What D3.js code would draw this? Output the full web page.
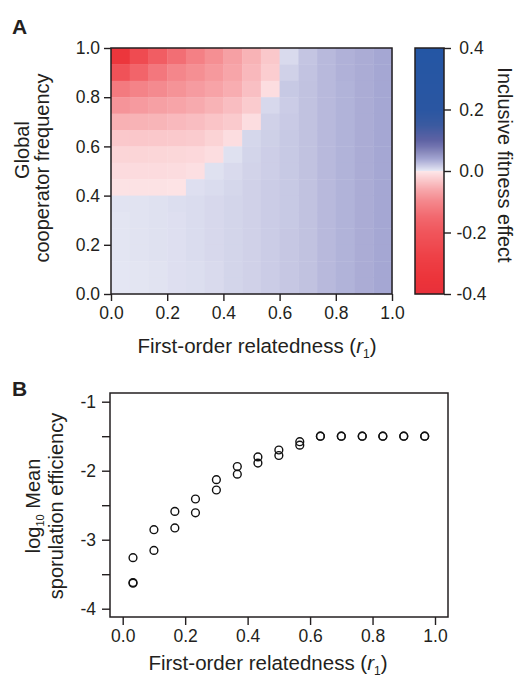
<!DOCTYPE html>
<html><head><meta charset="utf-8">
<script src="https://cdn.jsdelivr.net/npm/d3@7"></script>
<style>
html,body{margin:0;padding:0;background:#fff;}
svg{display:block;font-family:"Liberation Sans",Arial,Helvetica,sans-serif;}
</style></head>
<body>
<svg id="chart" width="517" height="682"></svg>
<script>
// ---------- DATA ----------
const relatedness = [0.033,0.1,0.167,0.233,0.3,0.367,0.433,0.5,0.567,0.633,0.7,0.767,0.833,0.9,0.967];
// global cooperator frequency bins, top to bottom
const cooperatorFreq = [0.967,0.9,0.833,0.767,0.7,0.633,0.567,0.5,0.433,0.367,0.3,0.233,0.167,0.1,0.033];
// inclusive fitness effect, one row per cooperatorFreq (top to bottom), one column per relatedness
const fitnessEffect = [
 [-0.34,-0.24,-0.18,-0.14,-0.11,-0.09,-0.07,-0.05,-0.03,0.008,0.02,0.027,0.032,0.035,0.038],
 [-0.21,-0.16,-0.125,-0.10,-0.09,-0.078,-0.064,-0.045,-0.025,0.013,0.021,0.027,0.032,0.035,0.038],
 [-0.12,-0.105,-0.095,-0.085,-0.075,-0.066,-0.055,-0.038,-0.01,0.018,0.022,0.027,0.031,0.035,0.038],
 [-0.083,-0.076,-0.07,-0.065,-0.058,-0.05,-0.04,-0.027,0.009,0.016,0.022,0.027,0.031,0.035,0.038],
 [-0.052,-0.05,-0.048,-0.044,-0.04,-0.034,-0.028,-0.01,0.013,0.017,0.022,0.027,0.031,0.035,0.038],
 [-0.03,-0.031,-0.03,-0.029,-0.027,-0.02,-0.01,0.01,0.014,0.018,0.022,0.027,0.031,0.035,0.038],
 [-0.018,-0.018,-0.017,-0.016,-0.015,-0.01,0.004,0.011,0.015,0.018,0.022,0.027,0.031,0.035,0.038],
 [-0.012,-0.012,-0.012,-0.011,-0.008,0.004,0.008,0.012,0.015,0.018,0.022,0.027,0.031,0.035,0.038],
 [-0.006,-0.006,-0.006,-0.005,0.005,0.007,0.01,0.013,0.016,0.018,0.022,0.027,0.031,0.035,0.038],
 [0.003,0.003,0.004,0.006,0.007,0.009,0.011,0.013,0.016,0.018,0.022,0.027,0.031,0.035,0.038],
 [0.002,0.003,0.004,0.005,0.007,0.009,0.011,0.013,0.016,0.018,0.022,0.027,0.031,0.035,0.038],
 [0.002,0.003,0.004,0.005,0.007,0.009,0.011,0.013,0.016,0.019,0.022,0.027,0.031,0.035,0.038],
 [0.002,0.003,0.004,0.005,0.007,0.009,0.011,0.013,0.016,0.019,0.022,0.027,0.031,0.035,0.038],
 [0.001,0.002,0.003,0.005,0.006,0.008,0.011,0.013,0.016,0.019,0.022,0.027,0.031,0.035,0.038],
 [0.001,0.002,0.003,0.005,0.006,0.008,0.011,0.013,0.016,0.019,0.022,0.027,0.031,0.035,0.038]
];
const axisTicksA = [0,0.2,0.4,0.6,0.8,1.0];
const colorbarTicks = [-0.4,-0.2,0,0.2,0.4];

// Panel B: log10 mean sporulation efficiency, two replicate series
const relatednessB = [0.033,0.1,0.167,0.233,0.3,0.367,0.433,0.5,0.567,0.633,0.7,0.767,0.833,0.9,0.967];
const sporulationHigh = [-3.26,-2.855,-2.59,-2.41,-2.13,-1.94,-1.80,-1.70,-1.58,-1.50,-1.50,-1.50,-1.50,-1.50,-1.50];
const sporulationLow  = [-3.62,-3.155,-2.83,-2.61,-2.28,-2.05,-1.89,-1.78,-1.63,-1.50,-1.50,-1.50,-1.50,-1.50,-1.50];
const sporulationLow2 = [-3.63];
const yTicksB = [-1,-2,-3,-4];
const yMinorB = [-1.5,-2.5,-3.5];
const xTicksB = [0,0.2,0.4,0.6,0.8,1.0];

// ---------- DRAW ----------
const svg = d3.select("#chart");
const ink = "#231f20";
const loc = d3.formatLocale({decimal:".",thousands:",",grouping:[3],currency:["$",""],minus:"-"});
const fmt = loc.format(".1f");
const fmtInt = loc.format("d");

const color = d3.scaleLinear()
  .domain([-0.4,-0.35,-0.28,-0.2,-0.15,-0.1,-0.06,-0.03,0,0.0001,0.02,0.04,0.06,0.08,0.1,0.15,0.2,0.4])
  .range(["#e8303a","#ec343a","#ee4046","#f0555b","#f2686e","#f4868b","#f7a8ac","#fac8cb","#fde8ea",
          "#e6e8f4","#c4c5e2","#a2a4d1","#8a8bbd","#7274b0","#5e62a4","#3a5aa0","#2a56a2","#2456a4"])
  .clamp(true);

// Panel A geometry
const A = {x0:111, x1:392, y0:48, y1:294};
const xA = d3.scaleLinear().domain([0,1]).range([A.x0,A.x1]);
const yA = d3.scaleLinear().domain([0,1]).range([A.y1,A.y0]);
const xBand = d3.scaleBand().domain(relatedness).range([A.x0,A.x1]).padding(0);
const yBand = d3.scaleBand().domain(cooperatorFreq).range([A.y0,A.y1]).padding(0);

const cells = [];
cooperatorFreq.forEach((f,i)=>relatedness.forEach((r,j)=>cells.push({r,f,v:fitnessEffect[i][j]})));
svg.append("g").selectAll("rect").data(cells).join("rect")
  .attr("x",d=>xBand(d.r)).attr("y",d=>yBand(d.f))
  .attr("width",xBand.bandwidth()+0.4).attr("height",yBand.bandwidth()+0.4)
  .attr("fill",d=>color(d.v));
svg.append("rect").attr("x",A.x0).attr("y",A.y0).attr("width",A.x1-A.x0).attr("height",A.y1-A.y0)
  .attr("fill","none").attr("stroke",ink).attr("stroke-width",1.5);

function styleAxis(g,size){
  g.select(".domain").remove();
  g.selectAll(".tick line").attr("stroke",ink).attr("stroke-width",1.4);
  g.selectAll(".tick text").attr("fill",ink).attr("font-size",size)
   .attr("font-family","'Liberation Sans',Arial,sans-serif");
}
const gxA = svg.append("g").attr("transform",`translate(0,${A.y1})`)
  .call(d3.axisBottom(xA).tickValues(axisTicksA).tickFormat(fmt).tickSize(7).tickPadding(6));
styleAxis(gxA,17.5);
const gyA = svg.append("g").attr("transform",`translate(${A.x0},0)`)
  .call(d3.axisLeft(yA).tickValues(axisTicksA).tickFormat(fmt).tickSize(7).tickPadding(4));
styleAxis(gyA,17.5);

// x title A
const xtA = svg.append("text").attr("x",257).attr("y",352.5).attr("text-anchor","middle")
  .attr("font-size",20.5).attr("fill",ink);
xtA.append("tspan").text("First-order relatedness (");
xtA.append("tspan").attr("font-style","italic").text("r");
xtA.append("tspan").attr("font-size",12).attr("dy",5).text("1");
xtA.append("tspan").attr("dy",-5).text(")");

// y title A
svg.append("text").attr("transform","translate(29,150) rotate(-90)")
  .attr("text-anchor","middle").attr("font-size",20).attr("fill",ink).text("Global");
svg.append("text").attr("transform","translate(49,168) rotate(-90)")
  .attr("text-anchor","middle").attr("font-size",20).attr("fill",ink).text("cooperator frequency");

// panel label A
svg.append("text").attr("x",12).attr("y",33.5).attr("font-size",21).attr("font-weight","bold").attr("fill",ink).text("A");

// Colorbar
const CB = {x0:415, x1:444, y0:48, y1:294};
const yCB = d3.scaleLinear().domain([-0.4,0.4]).range([CB.y1,CB.y0]);
const cbSteps = d3.range(CB.y0, CB.y1, 1);
svg.append("g").selectAll("rect").data(cbSteps).join("rect")
  .attr("x",CB.x0).attr("y",d=>d).attr("width",CB.x1-CB.x0).attr("height",1.2)
  .attr("fill",d=>color(yCB.invert(d+0.5)));
svg.append("rect").attr("x",CB.x0).attr("y",CB.y0).attr("width",CB.x1-CB.x0).attr("height",CB.y1-CB.y0)
  .attr("fill","none").attr("stroke",ink).attr("stroke-width",1.5);
const gCB = svg.append("g").attr("transform",`translate(${CB.x1},0)`)
  .call(d3.axisRight(yCB).tickValues(colorbarTicks).tickFormat(fmt).tickSize(7).tickPadding(4));
styleAxis(gCB,17.5);
gCB.selectAll(".tick text").attr("text-anchor","middle").attr("x",27.5);

svg.append("text").attr("transform","translate(498,165) rotate(90)").attr("text-anchor","middle")
  .attr("font-size",20).attr("fill",ink).text("Inclusive fitness effect");

// Panel B
const B = {x0:110, x1:448, y0:393, y1:617};
const xB = d3.scaleLinear().domain([0,1]).range([122.7,435]);
const yB = d3.scaleLinear().domain([-1,-4]).range([401.7,608.7]);
svg.append("rect").attr("x",B.x0).attr("y",B.y0).attr("width",B.x1-B.x0).attr("height",B.y1-B.y0)
  .attr("fill","none").attr("stroke",ink).attr("stroke-width",1.5);
const gxB = svg.append("g").attr("transform",`translate(0,${B.y1})`)
  .call(d3.axisBottom(xB).tickValues(xTicksB).tickFormat(fmt).tickSize(8).tickPadding(5));
styleAxis(gxB,17.5);
const gyB = svg.append("g").attr("transform",`translate(${B.x0},0)`)
  .call(d3.axisLeft(yB).tickValues(yTicksB).tickFormat(fmtInt).tickSize(8).tickPadding(6));
styleAxis(gyB,17.5);
svg.append("g").attr("transform",`translate(${B.x0},0)`)
  .call(d3.axisLeft(yB).tickValues(yMinorB).tickFormat("").tickSize(8))
  .call(g=>{g.select(".domain").remove();g.selectAll(".tick line").attr("stroke",ink).attr("stroke-width",1.4);});

const pts = [];
relatednessB.forEach((r,i)=>{pts.push({r,v:sporulationHigh[i]});pts.push({r,v:sporulationLow[i]});});
sporulationLow2.forEach(v=>pts.push({r:relatednessB[0],v}));
svg.append("g").selectAll("circle").data(pts).join("circle")
  .attr("cx",d=>xB(d.r)).attr("cy",d=>yB(d.v)).attr("r",3.9)
  .attr("fill","none").attr("stroke","#111").attr("stroke-width",1.4);

const xtB = svg.append("text").attr("x",268).attr("y",670).attr("text-anchor","middle")
  .attr("font-size",20.5).attr("fill",ink);
xtB.append("tspan").text("First-order relatedness (");
xtB.append("tspan").attr("font-style","italic").text("r");
xtB.append("tspan").attr("font-size",12).attr("dy",5).text("1");
xtB.append("tspan").attr("dy",-5).text(")");

const ytB = svg.append("text").attr("transform","translate(0,506) rotate(-90)")
  .attr("text-anchor","middle").attr("font-size",20).attr("fill",ink);
const l1 = ytB.append("tspan").attr("x",0).attr("y",40);
l1.append("tspan").text("log");
l1.append("tspan").attr("font-size",11).attr("dy",4).text("10");
l1.append("tspan").attr("dy",-4).text(" Mean");
ytB.append("tspan").attr("x",0).attr("y",63).text("sporulation efficiency");

svg.append("text").attr("x",12).attr("y",396).attr("font-size",21).attr("font-weight","bold").attr("fill",ink).text("B");
</script>
</body></html>
